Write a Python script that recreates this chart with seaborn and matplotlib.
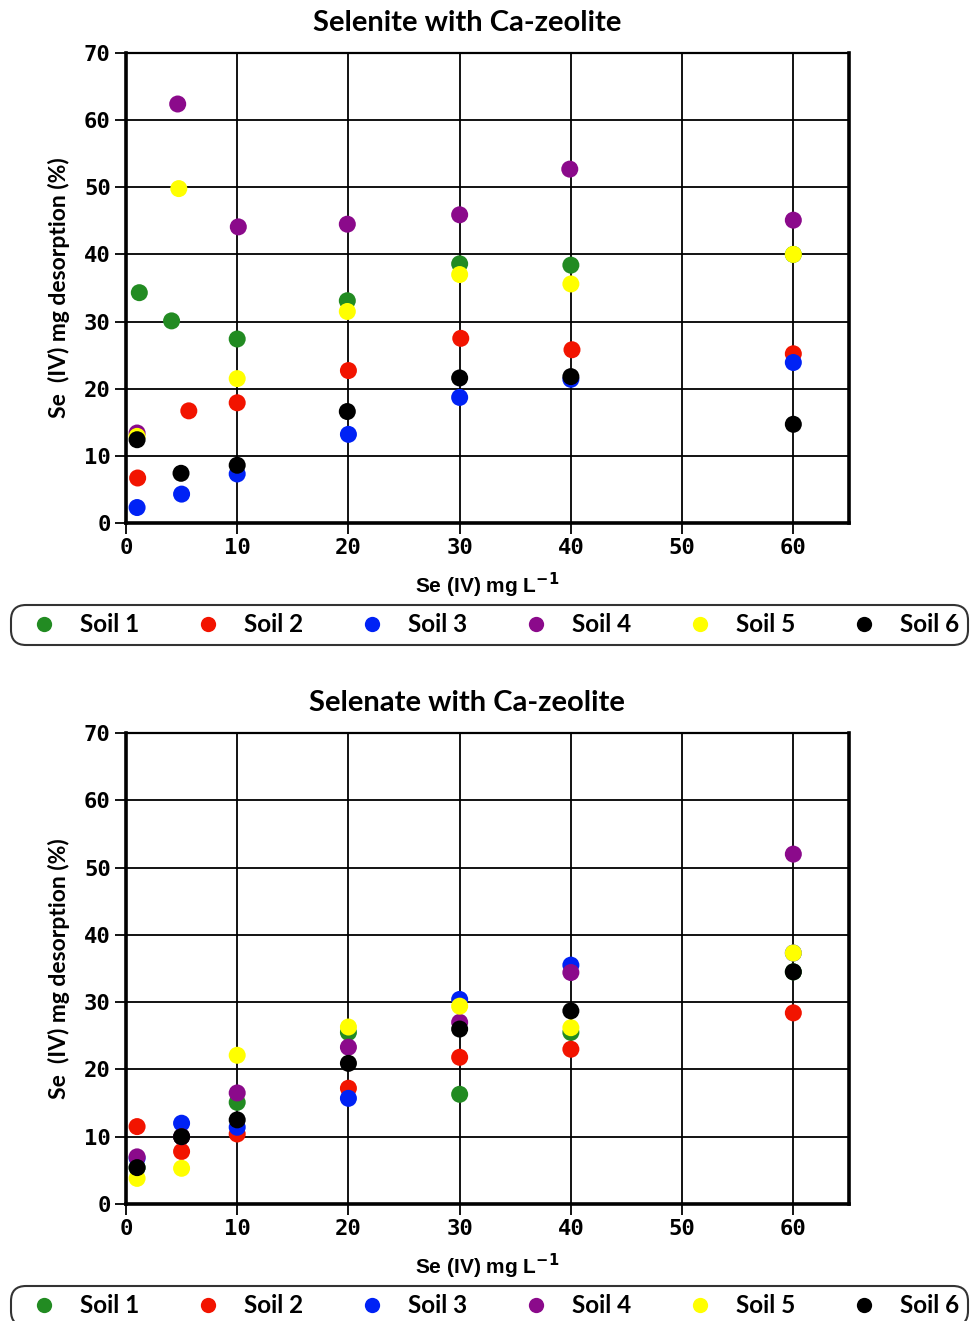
import pandas as pd
import numpy as np
import matplotlib
matplotlib.use("Agg")
import matplotlib.pyplot as plt
import seaborn as sns
from matplotlib.lines import Line2D

# ---------------------------------------------------
# Data
# ---------------------------------------------------
soils = ["Soil 1", "Soil 2", "Soil 3", "Soil 4", "Soil 5", "Soil 6"]
colors = ["#228B22", "#F21400", "#0022F5", "#8B0A8B", "#FFFF00", "#000000"]

# Selenite panel: x positions differ slightly per soil
selenite_x = {
    "Soil 1": [1.2, 4.1, 10.0, 19.9, 30.0, 40.0, 60.0],
    "Soil 2": [1.05, 5.65, 10.0, 20.0, 30.1, 40.1, 60.0],
    "Soil 3": [1.0, 5.0, 10.0, 20.0, 30.0, 40.0, 60.0],
    "Soil 4": [1.0, 4.65, 10.1, 19.9, 30.0, 39.9, 60.0],
    "Soil 5": [1.0, 4.75, 10.0, 19.9, 30.0, 40.0, 60.0],
    "Soil 6": [1.0, 4.95, 10.0, 19.9, 30.0, 40.0, 60.0],
}
selenite_y = {
    "Soil 1": [34.3, 30.1, 27.4, 33.1, 38.6, 38.4, 40.0],
    "Soil 2": [6.7, 16.7, 17.9, 22.7, 27.5, 25.8, 25.2],
    "Soil 3": [2.3, 4.3, 7.3, 13.2, 18.7, 21.4, 23.9],
    "Soil 4": [13.4, 62.4, 44.1, 44.5, 45.9, 52.7, 45.1],
    "Soil 5": [12.9, 49.8, 21.5, 31.5, 37.0, 35.6, 40.0],
    "Soil 6": [12.4, 7.4, 8.6, 16.6, 21.6, 21.8, 14.7],
}

# Selenate panel
selenate_x = [1, 5, 10, 20, 30, 40, 60]
selenate_y = {
    "Soil 1": [5.4, 10.0, 15.1, 25.5, 16.3, 25.5, 34.5],
    "Soil 2": [11.5, 7.8, 10.4, 17.2, 21.8, 23.0, 28.4],
    "Soil 3": [6.8, 12.0, 11.4, 15.7, 30.4, 35.5, 37.3],
    "Soil 4": [7.0, 10.0, 16.5, 23.3, 27.0, 34.4, 52.0],
    "Soil 5": [3.8, 5.3, 22.1, 26.3, 29.4, 26.2, 37.3],
    "Soil 6": [5.4, 10.0, 12.5, 20.9, 26.0, 28.7, 34.5],
}

x_ticks = [0, 10, 20, 30, 40, 50, 60]
y_ticks = [0, 10, 20, 30, 40, 50, 60, 70]


def to_long(xs, ys):
    rows = []
    for s in soils:
        x_vals = xs[s] if isinstance(xs, dict) else xs
        for xv, yv in zip(x_vals, ys[s]):
            rows.append({"conc": xv, "desorption": yv, "soil": s})
    return pd.DataFrame(rows)


df_selenite = to_long(selenite_x, selenite_y)
df_selenate = to_long(selenate_x, selenate_y)

# ---------------------------------------------------
# Figure
# ---------------------------------------------------
sns.set_style("white")
plt.rcParams["font.family"] = ["Lato", "DejaVu Sans"]
plt.rcParams["text.color"] = "black"
plt.rcParams["axes.labelcolor"] = "black"

fig = plt.figure(figsize=(9.72, 13.21), dpi=100)
ax_top = fig.add_axes([0.1296, 0.6041, 0.7438, 0.3558])
ax_bot = fig.add_axes([0.1296, 0.0886, 0.7438, 0.3565])

palette = dict(zip(soils, colors))

panels = [
    (ax_top, df_selenite, "Selenite with Ca-zeolite"),
    (ax_bot, df_selenate, "Selenate with Ca-zeolite"),
]

for ax, df, title in panels:
    sns.scatterplot(
        data=df, x="conc", y="desorption", hue="soil", hue_order=soils,
        palette=palette, s=150, linewidth=0, legend=False, ax=ax, zorder=3
    )
    ax.set_xlim(0, 65)
    ax.set_ylim(0, 70)
    ax.set_xticks(x_ticks)
    ax.set_yticks(y_ticks)
    ax.grid(True, color="black", linewidth=1.3)
    ax.set_axisbelow(True)
    for side, lw in [("left", 2.6), ("bottom", 2.6), ("right", 2.6), ("top", 1.6)]:
        ax.spines[side].set_visible(True)
        ax.spines[side].set_color("black")
        ax.spines[side].set_linewidth(lw)
    ax.tick_params(axis="both", direction="out", length=8, width=1.3,
                   colors="black", left=True, bottom=True, pad=3)
    for lab in ax.get_xticklabels() + ax.get_yticklabels():
        lab.set_family("DejaVu Sans Mono")
        lab.set_fontweight("bold")
        lab.set_fontsize(16)
    ax.set_xlabel("Se (IV) mg L$^{\\mathbf{-1}}$", fontsize=15, fontweight="bold",
                  family="Liberation Sans", labelpad=9)
    ax.set_ylabel("Se  (IV) mg desorption (%)", fontsize=16.5, family="Lato",
                  fontweight="bold", labelpad=10)
    pos = ax.get_position()
    fig.text(467 / 972, pos.y1 + 0.023, title, ha="center", va="center",
             fontsize=21, fontweight="bold", family="Lato")

# ---------------------------------------------------
# Legends
# ---------------------------------------------------
handles = [Line2D([], [], marker="o", linestyle="none", markersize=11,
                  markerfacecolor=c, markeredgewidth=0) for c in colors]

for y0 in [1 - 645 / 1321, 1 - 1326 / 1321]:
    leg = fig.legend(
        handles, soils, loc="lower left", ncol=6, mode="expand",
        bbox_to_anchor=(11 / 972, y0, 957 / 972, 42 / 1321),
        frameon=True, fancybox=True, shadow=False,
        handletextpad=0.5, borderaxespad=0, borderpad=0.35,
        prop={"family": "Lato", "size": 17.5, "weight": "bold"},
    )
    frame = leg.get_frame()
    frame.set_edgecolor("black")
    frame.set_linewidth(1.5)
    frame.set_boxstyle("round,pad=0,rounding_size=0.6")

fig.savefig("out.png", dpi=100)
